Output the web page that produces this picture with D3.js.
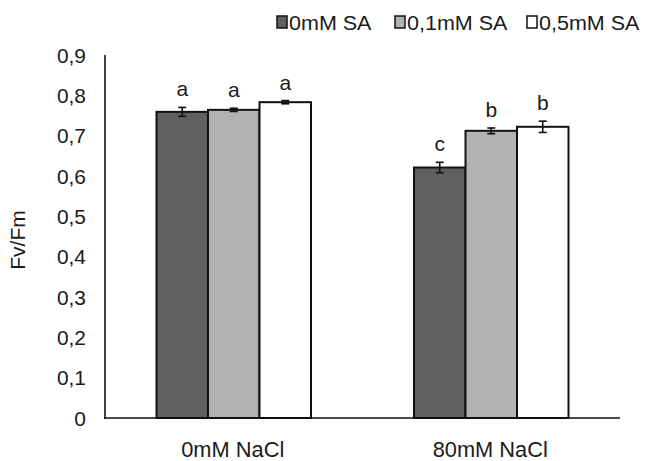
<!DOCTYPE html>
<html>
<head>
<meta charset="utf-8">
<script src="https://cdn.jsdelivr.net/npm/d3@7"></script>
<style>
  body { margin: 0; background: #fff; }
  text { font-family: "Liberation Sans", Arial, sans-serif; fill: #1a1a1a; }
</style>
</head>
<body>
<svg width="646" height="461"></svg>
<script>
const groups = ["0mM NaCl", "80mM NaCl"];
const series = ["0mM SA", "0,1mM SA", "0,5mM SA"];
const colors = ["#606060", "#b2b2b2", "#ffffff"];
// means per group, in series order
const means = [
  [0.759, 0.764, 0.783],
  [0.621, 0.712, 0.722]
];
const errors = [
  [0.011, 0.004, 0.004],
  [0.013, 0.007, 0.014]
];
const letters = [
  ["a", "a", "a"],
  ["c", "b", "b"]
];
const yTicks = [0, 0.1, 0.2, 0.3, 0.4, 0.5, 0.6, 0.7, 0.8, 0.9];

let svg = d3.select("svg");

let x0 = d3.scaleBand().domain(groups).range([105, 620]).paddingInner(0.4).paddingOuter(0.2);
let x1 = d3.scaleBand().domain(series).range([0, x0.bandwidth()]);
let y = d3.scaleLinear().domain([0, 0.9]).range([418, 55]);

let fmt = (d) => (d === 0 ? "0" : d3.format(".1f")(d).replace(".", ","));

// y tick labels (no tick marks in the original)
svg.append("g")
  .selectAll("text")
  .data(yTicks)
  .join("text")
  .attr("text-anchor", "end")
  .attr("transform", (d) => `translate(86, ${y(d) + 7.5}) scale(1.02, 1)`)
  .attr("font-size", "20.5px")
  .text(fmt);

// bars
let bars = [];
groups.forEach((g, gi) => {
  series.forEach((s, si) => {
    bars.push({ g, s, si, v: means[gi][si], e: errors[gi][si], l: letters[gi][si] });
  });
});

let group = svg.append("g").attr("class", "bars");
group.selectAll("rect")
  .data(bars)
  .join("rect")
  .attr("x", (d) => x0(d.g) + x1(d.s))
  .attr("y", (d) => y(d.v))
  .attr("width", x1.bandwidth())
  .attr("height", (d) => y(0) - y(d.v))
  .attr("fill", (d) => colors[d.si])
  .attr("stroke", "#111")
  .attr("stroke-width", 2);

// error bars
let cx = (d) => x0(d.g) + x1(d.s) + x1.bandwidth() / 2;
let err = svg.append("g").attr("stroke", "#111").attr("stroke-width", 1.6);
bars.forEach((d) => {
  err.append("line").attr("x1", cx(d)).attr("x2", cx(d))
    .attr("y1", y(d.v + d.e)).attr("y2", y(d.v - d.e));
  [d.v + d.e, d.v - d.e].forEach((v) => {
    err.append("line").attr("x1", cx(d) - 4).attr("x2", cx(d) + 4)
      .attr("y1", y(v)).attr("y2", y(v));
  });
});

// significance letters
svg.append("g")
  .selectAll("text")
  .data(bars)
  .join("text")
  .attr("text-anchor", "middle")
  .attr("transform", (d) => `translate(${cx(d)}, ${y(d.v + d.e) - 11})`)
  .attr("font-size", "21px")
  .text((d) => d.l);

// axes lines
svg.append("line").attr("x1", 105).attr("x2", 105).attr("y1", y(0.9)).attr("y2", y(0) + 1)
  .attr("stroke", "#111").attr("stroke-width", 1.6);
svg.append("line").attr("x1", 104).attr("x2", 620).attr("y1", y(0)).attr("y2", y(0))
  .attr("stroke", "#111").attr("stroke-width", 1.6);

// x labels
svg.append("g")
  .selectAll("text")
  .data(groups)
  .join("text")
  .attr("text-anchor", "middle")
  .attr("transform", (d) => `translate(${x0(d) + x0.bandwidth() / 2 - 1}, 457) scale(0.97, 1)`)
  .attr("font-size", "22.5px")
  .text((d) => d);

// y title
svg.append("text")
  .attr("transform", "translate(25, 240) rotate(-90)")
  .attr("text-anchor", "middle")
  .attr("font-size", "21px")
  .text("Fv/Fm");

// legend
let legendX = [277, 395, 527];
let legend = svg.append("g");
series.forEach((s, i) => {
  legend.append("rect")
    .attr("x", legendX[i]).attr("y", 16).attr("width", 10).attr("height", 12)
    .attr("fill", colors[i]).attr("stroke", "#111").attr("stroke-width", 1.5);
  legend.append("text")
    .attr("transform", `translate(${legendX[i] + 12}, 29.5) scale(1.05, 1)`)
    .attr("font-size", "20.5px")
    .text(s);
});
</script>
</body>
</html>
